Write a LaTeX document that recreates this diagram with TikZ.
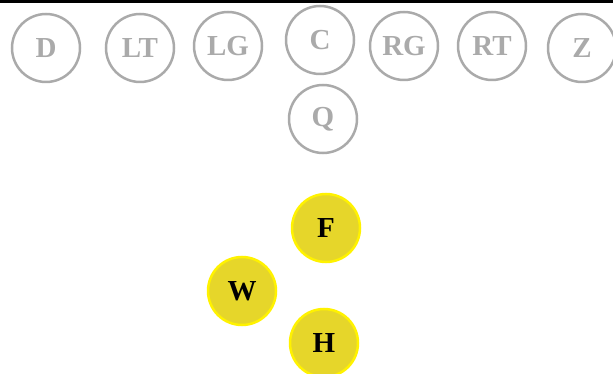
\documentclass[tikz,border=0pt]{standalone}
\usepackage{fontspec}
\setmainfont{Liberation Serif}
\usepackage{xcolor}
\usepackage{tikz}
\usetikzlibrary{positioning}

\definecolor{OffGray}{HTML}{AAAAAA}
\definecolor{DefFill}{HTML}{E6D62A}
\definecolor{DefRing}{HTML}{FFF200}

\begin{document}
\begin{tikzpicture}[x=1pt,y=-1pt]

  % Parameters
  \def\psize{68pt}
  \def\pfont{\fontsize{29}{32}\selectfont\bfseries}

  % Styles
  \tikzstyle{offense}=[circle,draw=OffGray,line width=2.5pt,text=OffGray,minimum size=\psize,inner sep=0pt,font=\pfont]
  \tikzstyle{defense}=[circle,draw=DefRing,fill=DefFill,line width=2.5pt,text=black,minimum size=\psize,inner sep=0pt,font=\pfont]
  \tikzstyle{scrimmage}=[line width=3pt,black]

  % ===========================================================================

  \useasboundingbox (0,0) rectangle (613,374);

  % Draw top line
  \draw[scrimmage] (0,1.5) -- (613,1.5);

  % Draw offense
  \foreach \name/\x/\y in {D/46/48,LT/140/48,LG/228/46,C/320/40,RG/404/46,RT/492/46,Z/582/48,Q/323/119}
    \node[offense] (\name) at (\x,\y) {\name};

  % Draw defense
  \foreach \name/\x/\y in {F/326/228,W/242/291,H/324/343}
    \node[defense] (\name) at (\x,\y) {\name};

\end{tikzpicture}
\end{document}
